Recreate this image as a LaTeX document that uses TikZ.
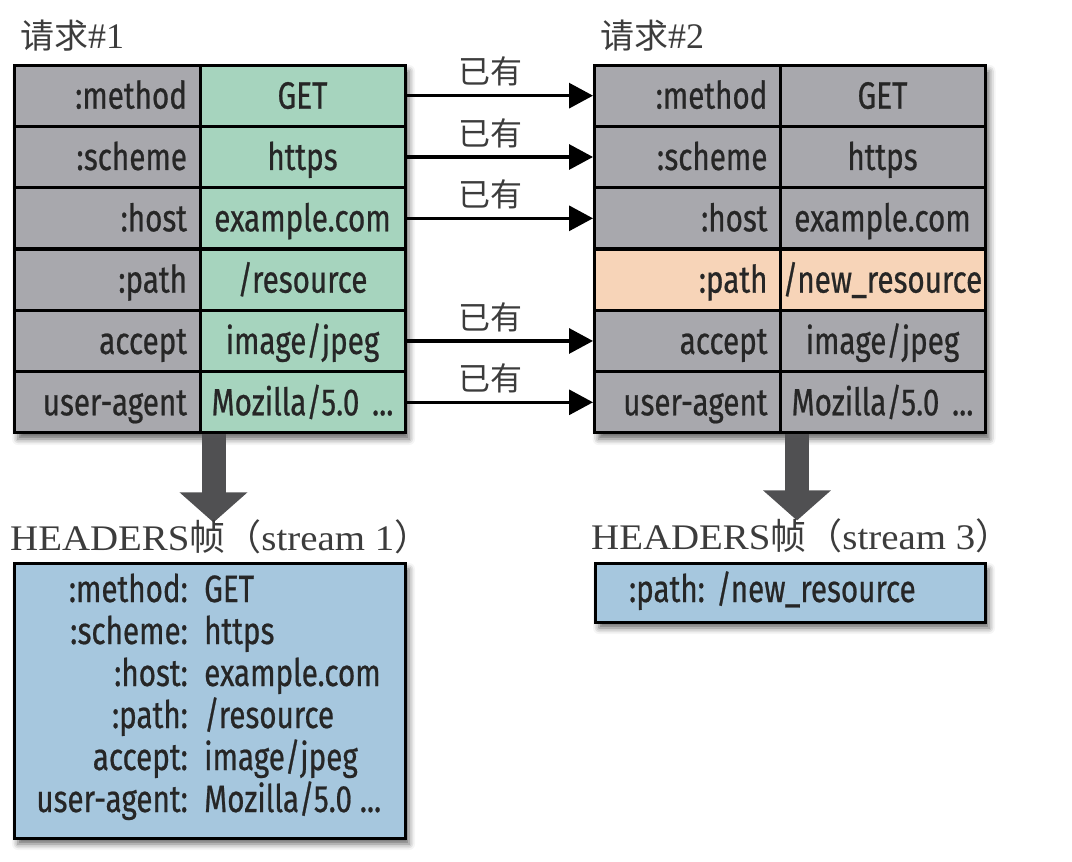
\documentclass[tikz,border=0pt]{standalone}
\usepackage{fontspec}
\setmainfont{Liberation Serif}
\newfontfamily\cjk{Noto Sans CJK SC}
\newfontfamily\hdr[FakeStretch=0.78,FakeBold=0.6]{Fira Sans}
\newfontfamily\hdrserif[FakeStretch=1.08]{Liberation Serif}
\usetikzlibrary{arrows.meta,positioning,shadows.blur}

\definecolor{keygray}{RGB}{168,168,173}
\definecolor{valgreen}{RGB}{166,212,190}
\definecolor{newpeach}{RGB}{247,212,184}
\definecolor{frameblue}{RGB}{166,199,222}
\definecolor{bigarrowgray}{RGB}{80,80,82}
\definecolor{titlegray}{RGB}{60,60,60}

\tikzset{
  cell/.style={draw=black, line width=3pt, minimum height=61.3pt, inner sep=0pt,
    font=\hdr\fontsize{38}{40}\selectfont, text height=26pt, text depth=0pt, text=black!85},
  keycell/.style={cell, minimum width=186pt, text width=160pt, align=right},
  valcell/.style={cell, minimum width=205pt, text width=200pt, align=center},
  boxshadow/.style={blur shadow={shadow xshift=4pt, shadow yshift=-6pt,
    shadow blur radius=6pt, shadow opacity=60}},
  tableshadow/.style={fill=white, inner sep=0pt, minimum width=391pt, minimum height=368pt, boxshadow},
  frame/.style={draw=black, line width=3pt, fill=frameblue, inner sep=0pt, boxshadow},
  frametext/.style={font=\hdr\fontsize{38}{40}\selectfont, text=black!85, inner sep=0pt},
  havearrow/.style={line width=3.2pt, -{Triangle[width=25pt,length=24pt]}},
  havelabel/.style={font=\cjk\fontsize{32}{34}\selectfont, text=titlegray, pos=0.45, yshift=24pt},
  bigarrow/.style={line width=24pt, bigarrowgray, -{Triangle[width=66pt,length=30pt]}},
  title/.style={font=\fontsize{36}{40}\selectfont, text=titlegray, inner sep=0pt}
}

\begin{document}
\begin{tikzpicture}[x=1pt, y=-1pt]
\useasboundingbox (0,0) rectangle (1072,862);

\node[tableshadow] (ltable) at (209.5,249) {};
\node[tableshadow] (rtable) at (790,249) {};

% request #1
\foreach \k/\v [count=\i] in {{:method}/GET, {:scheme}/https, {:host}/{example.com},
    {:path}/{/resource}, {accept}/{image/jpeg}, {user-agent}/{Mozilla/5.0 ...}} {
  \node[keycell, fill=keygray] (lk\i) at (107, 65+61.33*\i-30.67) {\k};
  \node[valcell, fill=valgreen] (lv\i) at (302.5, 65+61.33*\i-30.67) {\v};
}
% request #2
\foreach \k/\v/\c [count=\i] in {{:method}/GET/keygray, {:scheme}/https/keygray,
    {:host}/{example.com}/keygray, {:path}/{/new\_resource}/newpeach,
    {accept}/{image/jpeg}/keygray, {user-agent}/{Mozilla/5.0 ...}/keygray} {
  \node[keycell, fill=\c] (rk\i) at (687.5, 65+61.33*\i-30.67) {\k};
  \node[valcell, fill=\c] (rv\i) at (882.5, 65+61.33*\i-30.67) {\v};
}

\node[title, anchor=west] (lt) at (20,36) {{\cjk\fontsize{34}{40}\selectfont 请求}\#1};
\node[title, anchor=west] (rt) at (600,36) {{\cjk\fontsize{34}{40}\selectfont 请求}\#2};

\foreach \i in {1,2,3,5,6}
  \draw[havearrow] (lv\i.east) -- node[havelabel] {已有} (rk\i.west);

\draw[bigarrow] ([xshift=12pt]lk6.south east) -- ([xshift=12pt,yshift=-88pt]lk6.south east);
\draw[bigarrow] ([xshift=15pt]rk6.south east) -- ([xshift=15pt,yshift=-86pt]rk6.south east);

\node[title, anchor=base west] (lh) at (10,550) {{\hdrserif HEADERS}{\cjk 帧（}{\hdrserif stream 1}{\cjk ）}};
\node[title, anchor=base west] (rh) at (591,549) {{\hdrserif HEADERS}{\cjk 帧（}{\hdrserif stream 3}{\cjk ）}};

% HEADERS frames
\node[frame, minimum width=391pt, minimum height=275pt] (lframe) at (209.5,700.5) {};
\foreach \k/\v [count=\i] in {{:method:}/GET, {:scheme:}/https, {:host:}/{example.com},
    {:path:}/{/resource}, {accept:}/{image/jpeg}, {user-agent:}/{Mozilla/5.0 ...}} {
  \node[frametext, anchor=base east] (fk\i) at (188, 602+42*\i-42) {\k};
  \node[frametext, anchor=base west] (fv\i) at (204, 602+42*\i-42) {\v};
}
\node[frame, minimum width=390pt, minimum height=59pt] (rframe) at (790,592.5) {};
\node[frametext, anchor=base east] (rfk) at (705,602) {:path:};
\node[frametext, anchor=base west] (rfv) at (716,602) {/new\_resource};
\end{tikzpicture}
\end{document}
